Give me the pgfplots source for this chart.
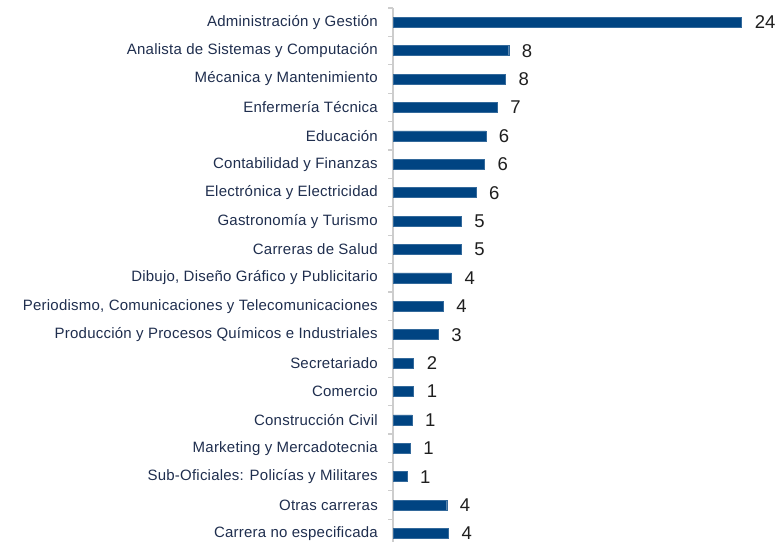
\documentclass[border=0pt]{standalone}
\usepackage{pgfplots}
\pgfplotsset{compat=1.18}
\usepackage{pgfplotstable}
\usepackage{fontspec}
\setmainfont{Liberation Sans}
\newfontfamily\catfont[LetterSpace=1.5]{Liberation Sans}
\definecolor{barblue}{RGB}{0,68,130}
\definecolor{labnavy}{RGB}{31,46,78}
\definecolor{axgray}{RGB}{205,205,205}
\pgfplotstableread[col sep=comma]{
idx,val,lab
0,24.0,24
1,7.95,8
2,7.72,8
3,7.16,7
4,6.37,6
5,6.27,6
6,5.70,6
7,4.68,5
8,4.68,5
9,4.00,4
10,3.44,4
11,3.10,3
12,1.40,2
13,1.40,1
14,1.29,1
15,1.17,1
16,0.94,1
17,3.68,4
18,3.79,4
}\datatable
\begin{document}
\begin{tikzpicture}
\begin{axis}[
  scale only axis,
  width=348.4bp, height=534bp,
  xmin=0, xmax=24,
  ymin=-0.5, ymax=18.3,
  y dir=reverse,
  hide x axis,
  axis y line*=left,
  y axis line style={-, draw=axgray, line width=1.6bp},
  clip=false,
  ytick={0,...,18},
  yticklabels={
    Administración y Gestión,
    Analista de Sistemas y Computación,
    Mécanica y Mantenimiento,
    Enfermería Técnica,
    Educación,
    Contabilidad y Finanzas,
    Electrónica y Electricidad,
    Gastronomía y Turismo,
    Carreras de Salud,
    {Dibujo, Diseño Gráfico y Publicitario},
    {Periodismo, Comunicaciones y Telecomunicaciones},
    Producción y Procesos Químicos e Industriales,
    Secretariado,
    Comercio,
    Construcción Civil,
    Marketing y Mercadotecnia,
    Sub-Oficiales: Policías y Militares,
    Otras carreras,
    Carrera no especificada},
  major tick length=0pt,
  minor ytick={-0.5,0.5,...,17.5},
  minor tick length=5bp,
  tick align=outside,
  minor tick style={draw=axgray, line width=1.2bp},
  yticklabel style={font=\catfont\fontsize{15bp}{16bp}\selectfont, text=labnavy, xshift=-12bp},
  xbar,
  bar width=10bp,
  nodes near coords,
  point meta=explicit symbolic,
  every node near coord/.append style={font=\fontsize{18.5bp}{20bp}\selectfont, text=black!88, anchor=west, inner sep=0pt, text depth=0pt, xshift=13bp},
]
\addplot[fill=barblue, draw=barblue!80!white, line width=0.4bp] table[x=val, y=idx, meta=lab] {\datatable};
\end{axis}
\pgfresetboundingbox
\path (current axis.south west) ++(-393.3bp,0) rectangle ++(778bp,542bp);
\end{tikzpicture}
\end{document}
